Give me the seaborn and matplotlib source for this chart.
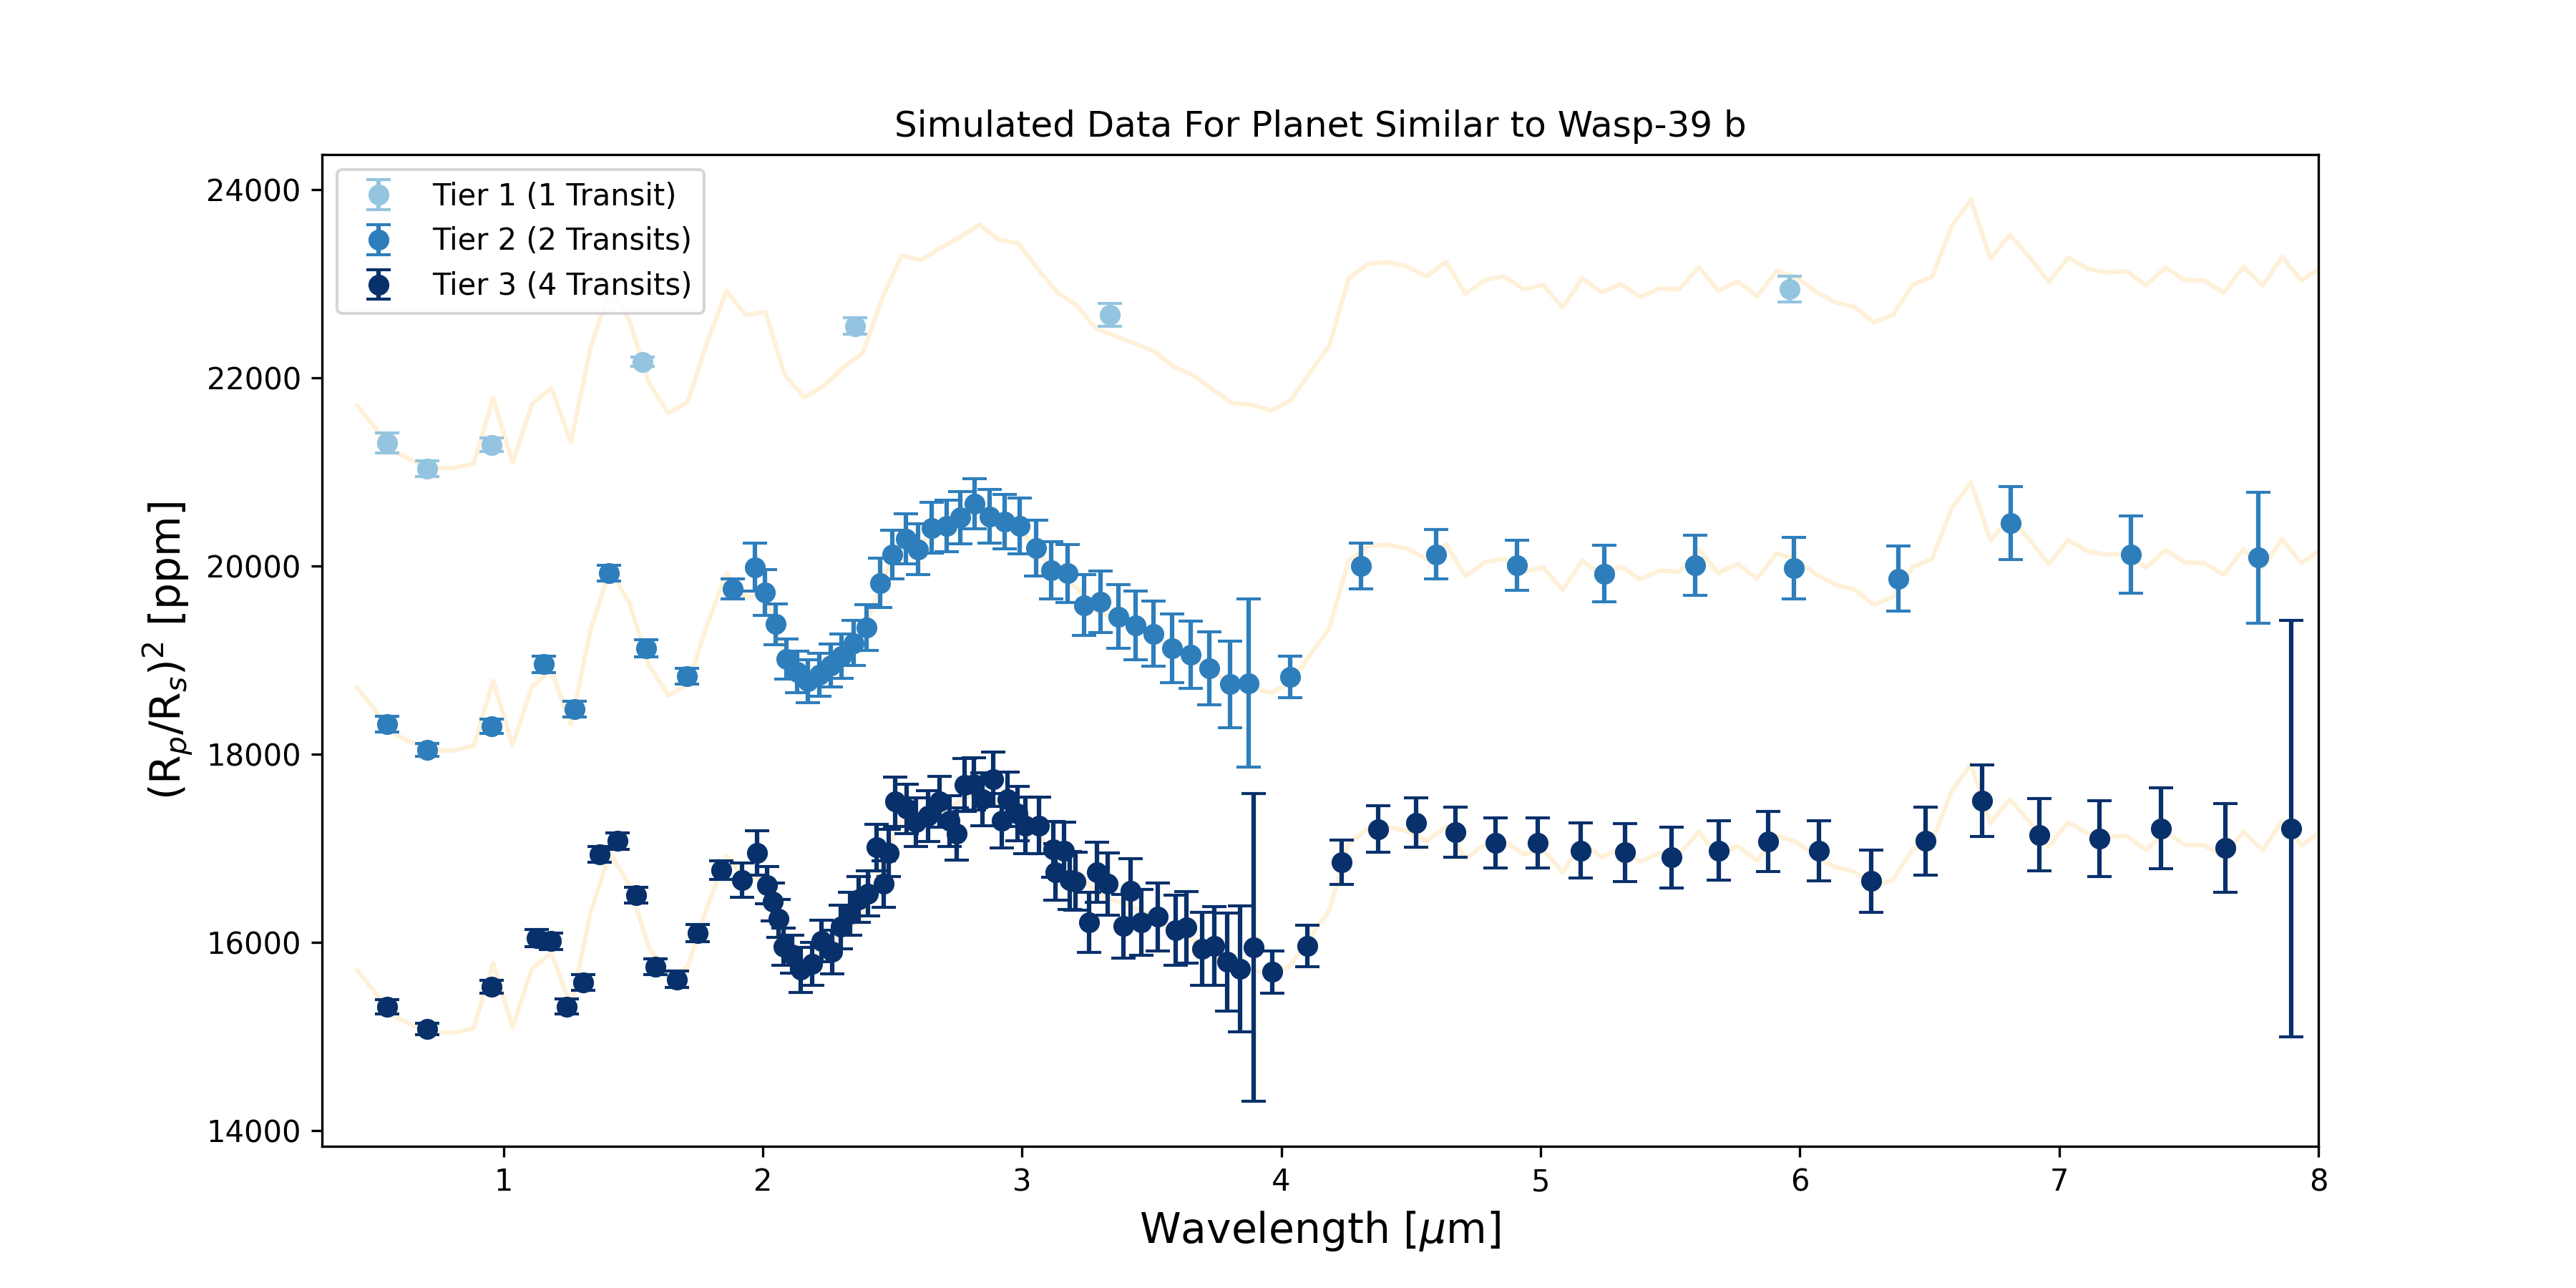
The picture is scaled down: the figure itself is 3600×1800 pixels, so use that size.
import numpy as np
import pandas as pd
import matplotlib
matplotlib.use("Agg")
import matplotlib.pyplot as plt
import seaborn as sns

# =========================
# DATA
# =========================
# binned model spectrum (tier 3 level); the same model is shifted up for tier 2 and tier 1
model_wl = [0.435, 0.51, 0.585, 0.66, 0.735, 0.81, 0.885, 0.96, 1.035, 1.11,
            1.185, 1.26, 1.335, 1.41, 1.485, 1.56, 1.635, 1.71, 1.785, 1.86,
            1.935, 2.01, 2.085, 2.16, 2.235, 2.31, 2.385, 2.46, 2.535, 2.61,
            2.685, 2.76, 2.835, 2.91, 2.985, 3.06, 3.135, 3.21, 3.285, 3.36,
            3.435, 3.51, 3.585, 3.66, 3.735, 3.81, 3.885, 3.96, 4.035, 4.11,
            4.185, 4.26, 4.335, 4.41, 4.485, 4.56, 4.635, 4.71, 4.785, 4.86,
            4.935, 5.01, 5.085, 5.16, 5.235, 5.31, 5.385, 5.46, 5.535, 5.61,
            5.685, 5.76, 5.835, 5.91, 5.985, 6.06, 6.135, 6.21, 6.285, 6.36,
            6.435, 6.51, 6.585, 6.66, 6.735, 6.81, 6.885, 6.96, 7.035, 7.11,
            7.185, 7.26, 7.335, 7.41, 7.485, 7.56, 7.635, 7.71, 7.785, 7.86,
            7.935, 8.01]
model_depth = [15704, 15450, 15205, 15104, 15040, 15040, 15086, 15780, 15096, 15720,
               15889, 15312, 16307, 16954, 16611, 15953, 15623, 15737, 16371, 16923,
               16662, 16700, 16029, 15788, 15910, 16110, 16257, 16839, 17296, 17250,
               17377, 17493, 17625, 17468, 17427, 17156, 16908, 16769, 16523, 16439,
               16363, 16277, 16117, 16024, 15877, 15730, 15712, 15649, 15755, 16050,
               16338, 17055, 17207, 17227, 17182, 17073, 17232, 16890, 17037, 17075,
               16936, 16986, 16743, 17055, 16908, 16992, 16857, 16949, 16936, 17174,
               16923, 17022, 16865, 17131, 17068, 16916, 16801, 16751, 16586, 16670,
               16986, 17073, 17605, 17891, 17265, 17518, 17283, 17017, 17275, 17156,
               17118, 17131, 16979, 17169, 17037, 17030, 16903, 17176, 16979, 17283,
               17030, 17176]
model_offsets = [6000, 3000, 0]

# Tier 1 (1 transit)
t1_wl = [0.552, 0.706, 0.955, 1.536, 2.355, 3.338, 5.961]
t1_depth = [21306, 21033, 21286, 22168, 22548, 22667, 22941]
t1_err = [110, 84, 72, 50, 89, 118, 134]

# Tier 2 (2 transits)
t2_wl = [0.550, 0.706, 0.955, 1.156, 1.274, 1.407, 1.549, 1.707, 1.884, 1.971,
         2.008, 2.050, 2.090, 2.132, 2.175, 2.219, 2.261, 2.304, 2.351, 2.399,
         2.452, 2.499, 2.552, 2.600, 2.652, 2.710, 2.763, 2.816, 2.874, 2.932,
         2.990, 3.054, 3.112, 3.175, 3.239, 3.302, 3.373, 3.438, 3.508, 3.579,
         3.650, 3.722, 3.801, 3.875, 4.033, 4.306, 4.598, 4.910, 5.245, 5.596,
         5.977, 6.380, 6.814, 7.277, 7.768]
t2_depth = [18320, 18044, 18295, 18955, 18477, 19925, 19124, 18827, 19757, 19986,
            19717, 19380, 19009, 18874, 18773, 18841, 18942, 19043, 19178, 19346,
            19818, 20121, 20289, 20175, 20404, 20424, 20512, 20660, 20525, 20471,
            20424, 20188, 19952, 19919, 19582, 19616, 19460, 19366, 19279, 19124,
            19056, 18908, 18740, 18753, 18820, 19999, 20121, 20006, 19918, 20006,
            19972, 19865, 20457, 20121, 20087]
t2_err = [84, 67, 74, 88, 84, 84, 91, 84, 108, 256,
          246, 216, 212, 219, 226, 230, 230, 235, 240, 245,
          263, 260, 265, 270, 270, 275, 280, 263, 285, 290,
          295, 300, 305, 310, 323, 327, 337, 367, 347, 364,
          360, 387, 461, 893, 219, 246, 263, 269, 303, 320,
          327, 347, 387, 411, 694]

# Tier 3 (4 transits)
t3_wl = [0.550, 0.706, 0.955, 1.129, 1.182, 1.245, 1.306, 1.370, 1.441, 1.512,
         1.586, 1.668, 1.750, 1.840, 1.920, 1.979, 2.016, 2.039, 2.062, 2.080,
         2.112, 2.145, 2.190, 2.227, 2.268, 2.301, 2.338, 2.369, 2.406, 2.439,
         2.467, 2.485, 2.512, 2.554, 2.591, 2.637, 2.683, 2.720, 2.747, 2.779,
         2.815, 2.848, 2.890, 2.922, 2.945, 2.982, 3.014, 3.065, 3.120, 3.129,
         3.161, 3.184, 3.207, 3.258, 3.290, 3.331, 3.391, 3.419, 3.460, 3.524,
         3.593, 3.635, 3.695, 3.741, 3.791, 3.842, 3.893, 3.966, 4.100, 4.233,
         4.374, 4.521, 4.672, 4.827, 4.989, 5.155, 5.327, 5.504, 5.688, 5.879,
         6.074, 6.275, 6.486, 6.702, 6.924, 7.156, 7.394, 7.640, 7.895]
t3_depth = [15314, 15082, 15526, 16045, 16011, 15317, 15573, 16934, 17076, 16503,
            15742, 15607, 16099, 16766, 16660, 16949, 16607, 16429, 16252, 15953,
            15872, 15707, 15771, 16011, 15897, 16163, 16303, 16455, 16518, 17007,
            16619, 16949, 17493, 17417, 17278, 17341, 17493, 17291, 17151, 17671,
            17683, 17519, 17734, 17291, 17519, 17367, 17240, 17240, 16987, 16746,
            16970, 16657, 16648, 16212, 16747, 16620, 16170, 16550, 16212, 16269,
            16128, 16156, 15931, 15960, 15791, 15720, 15945, 15684, 15959, 16851,
            17202, 17271, 17170, 17055, 17055, 16975, 16954, 16900, 16975, 17069,
            16975, 16651, 17076, 17507, 17143, 17103, 17210, 17002, 17210]
t3_err = [77, 61, 67, 88, 88, 80, 80, 85, 85, 85,
          85, 85, 90, 100, 180, 236, 200, 200, 200, 200,
          200, 240, 230, 220, 230, 230, 230, 240, 240, 250,
          250, 250, 260, 260, 260, 270, 270, 270, 280, 280,
          280, 280, 290, 290, 290, 290, 300, 300, 300, 300,
          310, 310, 310, 320, 320, 330, 340, 340, 350, 360,
          370, 380, 390, 420, 520, 670, 1634, 225, 222, 236,
          246, 263, 263, 269, 269, 293, 310, 320, 313, 320,
          320, 330, 360, 381, 387, 404, 428, 472, 2213]

tier_labels = ["Tier 1 (1 Transit)", "Tier 2 (2 Transits)", "Tier 3 (4 Transits)"]

# =========================
# PLOT
# =========================
blues = sns.color_palette("Blues", as_cmap=True)
tier_colors = [blues(0.4), blues(0.7), blues(1.0)]

fig, ax = plt.subplots(figsize=(12, 6))

model_df = pd.DataFrame({"wl": model_wl, "depth": model_depth})
for off in model_offsets:
    sns.lineplot(x=model_df["wl"], y=model_df["depth"] + off, ax=ax,
                 color="orange", alpha=0.15, linewidth=1.5,
                 estimator=None, sort=False, zorder=1)

tiers = [(t1_wl, t1_depth, t1_err), (t2_wl, t2_depth, t2_err), (t3_wl, t3_depth, t3_err)]
for (wl, depth, err), color, label in zip(tiers, tier_colors, tier_labels):
    ax.errorbar(wl, depth, yerr=err, fmt='o', color=color, capsize=4,
                label=label, zorder=3)

ax.set_xlim(0.3, 8)
ax.set_title("Simulated Data For Planet Similar to Wasp-39 b")
ax.set_xlabel(r"Wavelength [$\mu$m]", fontsize=14)
ax.set_ylabel(r"(R$_p$/R$_s$)$^2$ [ppm]", fontsize=14)
ax.legend(loc="upper left")

fig.savefig("out.png", dpi=300)
print("Saved: out.png")
